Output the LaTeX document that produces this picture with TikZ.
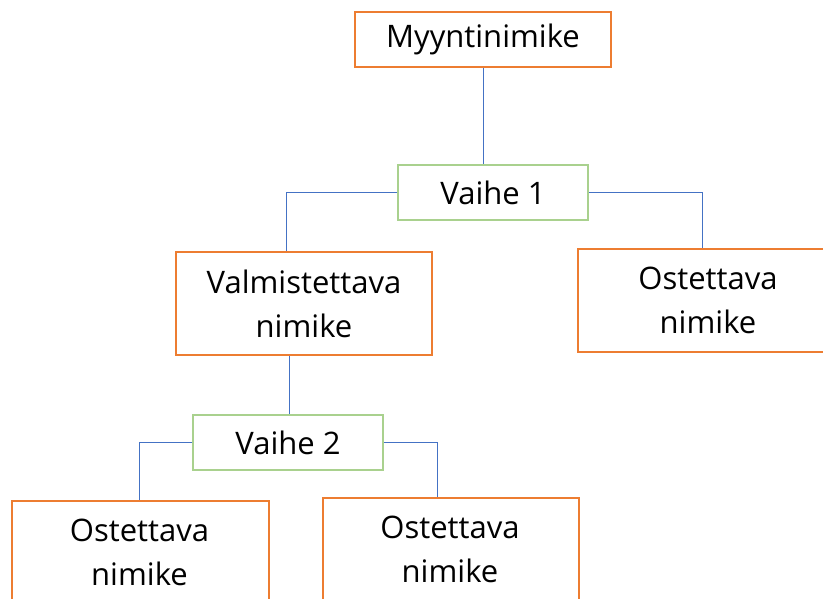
\documentclass[tikz,border=0pt]{standalone}
\usepackage{fontspec}
\setmainfont{Open Sans}
\begin{document}
\begin{tikzpicture}[x=1pt,y=-1pt,
  label/.style={align=center,inner sep=0pt,text=black,
    font=\fontsize{31}{44}\selectfont},
  orangebox/.style={label,draw=boxorange,line width=2pt,fill=white},
  greenbox/.style={label,draw=boxgreen,line width=2pt,fill=white},
  link/.style={draw=linkblue,line width=1pt}]
\definecolor{boxorange}{HTML}{ED7D31}
\definecolor{boxgreen}{HTML}{A9D18E}
\definecolor{linkblue}{HTML}{4472C4}
\useasboundingbox (0,0) rectangle (823,598);
\clip (0,0) rectangle (823,598);

% top level
\node[orangebox,minimum width=256pt,minimum height=55pt] (top) at (483,39.5) {Myyntinimike};
\node[greenbox,minimum width=190pt,minimum height=55pt] (v1) at (493,192.5) {Vaihe 1};

% second level
\node[orangebox,minimum width=256pt,minimum height=103pt] (valm) at (304,303.5) {Valmistettava\\nimike};
\node[orangebox,minimum width=260pt,minimum height=103pt] (ostR) at (708,300.5) {Ostettava\\nimike};
\node[greenbox,minimum width=190pt,minimum height=55pt] (v2) at (288,442.5) {Vaihe 2};

% bottom level: boxes run past the lower edge
\node[orangebox,minimum width=257pt,minimum height=103pt,anchor=north west] (ostL) at (11,500) {};
\node[orangebox,minimum width=256pt,minimum height=103pt,anchor=north west] (ostM) at (322,497) {};
\node[label] (ostLt) at (139.5,552) {Ostettava\\nimike};
\node[label] (ostMt) at (450,549) {Ostettava\\nimike};

% connectors
\draw[link] (top.south) -- (top.south |- v1.north);
\draw[link] (v1.west) -| (valm.north -| 286,0);
\draw[link] (v1.east) -| (ostR.north -| 702,0);
\draw[link] (valm.south -| 289,0) -- (v2.north -| 289,0);
\draw[link] (v2.west) -| (ostL.north -| 139,0);
\draw[link] (v2.east) -| (ostM.north -| 437,0);
\end{tikzpicture}
\end{document}
